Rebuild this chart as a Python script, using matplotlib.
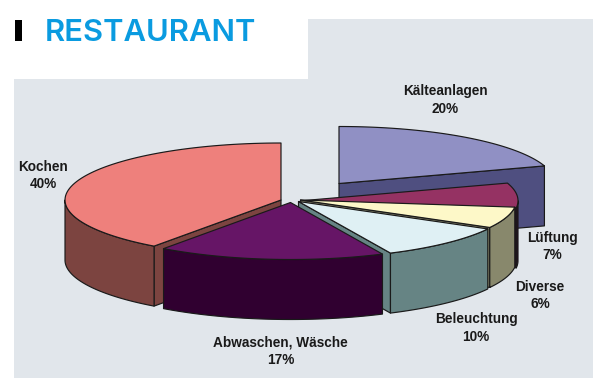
#!/usr/bin/env python3
import matplotlib as mpl

mpl.use("Agg")
import matplotlib.pyplot as plt
import numpy as np
from matplotlib.patches import Polygon, Rectangle

# slices, clockwise from 12 o'clock
LABELS = ["Kälteanlagen", "Lüftung", "Diverse", "Beleuchtung", "Abwaschen, Wäsche", "Kochen"]
SHARES = [20, 7, 6, 10, 17, 40]

TOP_COLORS = ["#9090C4", "#953263", "#FDF8C8", "#DFF0F4", "#661566", "#EE807C"]
SIDE_COLORS = ["#4F4F80", "#2A0A20", "#88886C", "#668484", "#300030", "#7C4440"]

# exploded apex of every slice, picture pixels
APEX_X = [339, 302, 300.5, 298.5, 290.5, 281]
APEX_Y = [183.5, 200.7, 200, 201.5, 202.5, 200]

LABEL_X = [445, 552, 540, 476, 280.5, 43]
LABEL_Y = [100, 246.5, 295.5, 328, 351.5, 175.5]

RX = 216
RY = 57
DEPTH = 60
EDGE = "#1A1A1A"
PANEL = "#E1E6EB"
TITLE_BLUE = "#0A9BE0"


def rim(cx, cy, start, stop):
    t = np.radians(np.linspace(start, stop, 80))
    return np.column_stack([cx + RX * np.sin(t), cy - RY * np.cos(t)])


def add_poly(ax, pts, color, z):
    ax.add_patch(Polygon(pts, closed=True, facecolor=color, edgecolor=EDGE, linewidth=0.85, joinstyle="round", zorder=z))


def cut_face(ax, cx, cy, angle, color, z):
    edge = rim(cx, cy, angle, angle)[0]
    pts = [(cx, cy), edge, (edge[0], edge[1] + DEPTH), (cx, cy + DEPTH)]
    add_poly(ax, pts, color, z)


def draw_slice(ax, cx, cy, start, stop, top, side, z):
    # cut faces first, they sit behind the outer wall
    if np.cos(np.radians(start - 90)) < -1e-6:
        cut_face(ax, cx, cy, start, side, z)
    if np.cos(np.radians(stop + 90)) < -1e-6:
        cut_face(ax, cx, cy, stop, side, z)

    # the outer wall only shows on the front half
    lo, hi = max(start, 90), min(stop, 270)
    if lo < hi:
        arc = rim(cx, cy, lo, hi)
        wall = np.vstack([arc, arc[::-1] + [0, DEPTH]])
        add_poly(ax, wall, side, z)

    add_poly(ax, np.vstack([[cx, cy], rim(cx, cy, start, stop)]), top, z)


def main():
    fig = plt.figure(figsize=(6.0, 3.85), dpi=100)
    ax = fig.add_axes([0, 0, 1, 1])
    ax.set_xlim(0, 600)
    ax.set_ylim(385, 0)
    ax.axis("off")

    # grey panel with the title notch cut out
    ax.add_patch(Polygon([(14, 79), (308, 79), (308, 19), (593, 19), (593, 378), (14, 378)], facecolor=PANEL, edgecolor="none", zorder=0))
    ax.add_patch(Rectangle((15, 20), 7, 21, facecolor="black", edgecolor="none", zorder=1))
    ax.text(44.5, 41, "RESTAURANT", fontsize=22.3, family="Inter", fontweight="semibold", color=TITLE_BLUE, ha="left", va="baseline")

    angles = np.cumsum([0] + SHARES) * 3.6
    order = [0, 5, 1, 2, 3, 4]
    for z, i in enumerate(order, start=2):
        draw_slice(ax, APEX_X[i], APEX_Y[i], angles[i], angles[i + 1], TOP_COLORS[i], SIDE_COLORS[i], z)

    for label, share, x, y in zip(LABELS, SHARES, LABEL_X, LABEL_Y):
        ax.text(
            x, y, f"{label}\n{share}%",
            fontsize=9.85, family="Liberation Sans", fontweight="bold", color="#1A1A1A",
            ha="center", va="center", linespacing=1.3, zorder=10,
        )

    fig.savefig("out.png", dpi=100, facecolor="white")
    plt.close(fig)


if __name__ == "__main__":
    main()
